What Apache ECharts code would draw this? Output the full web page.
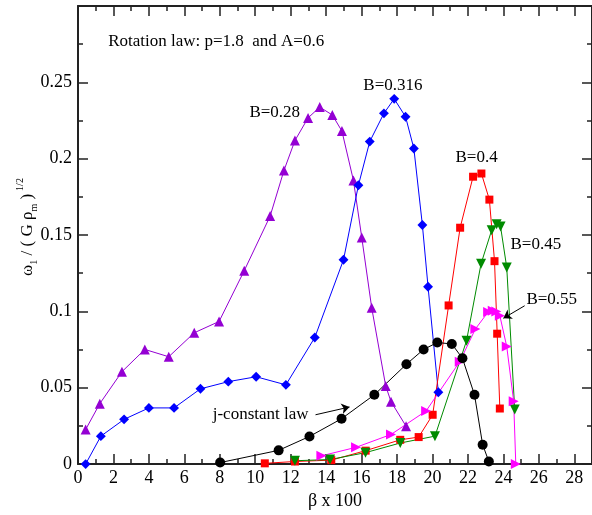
<!DOCTYPE html>
<html>
<head>
<meta charset="utf-8">
<script src="https://cdn.jsdelivr.net/npm/echarts@6/dist/echarts.min.js"></script>
<style>
html,body{margin:0;padding:0;background:#fff;}
#chart{width:592px;height:515px;}
</style>
</head>
<body>
<div id="chart"></div>
<script>
// ---- data ----
var b028_x = [0.43,1.23,2.48,3.77,5.12,6.56,7.96,9.38,10.84,11.62,12.24,12.98,13.64,14.35,14.89,15.54,16.01,16.57,17.36,17.66,18.51];
var b028_y = [0.0226,0.0396,0.0605,0.0751,0.0703,0.086,0.0934,0.1267,0.1624,0.1923,0.2119,0.2267,0.2338,0.2286,0.2181,0.1858,0.1484,0.1024,0.0512,0.0409,0.0248];

var b0316_x = [0.43,1.29,2.6,4.0,5.42,6.91,8.48,10.05,11.73,13.36,14.98,15.82,16.46,17.26,17.84,18.48,18.95,19.43,19.75,20.33];
var b0316_y = [0.0,0.0183,0.0293,0.0368,0.0368,0.0493,0.054,0.0572,0.0519,0.0829,0.1338,0.1826,0.2112,0.2297,0.2392,0.2275,0.2067,0.1566,0.1161,0.0471];

var b04_x = [10.54,12.24,14.29,16.23,18.18,19.22,20.01,20.91,21.56,22.29,22.76,23.21,23.5,23.65,23.8];
var b04_y = [0.0005,0.0017,0.0026,0.0088,0.0159,0.0177,0.0323,0.1039,0.1548,0.1882,0.1903,0.1732,0.1329,0.0854,0.0364];

var b045_x = [12.24,14.22,16.22,18.18,20.14,21.92,22.74,23.34,23.62,23.84,24.19,24.64];
var b045_y = [0.0022,0.003,0.0075,0.0138,0.0183,0.0807,0.1312,0.1532,0.157,0.1556,0.1288,0.0357];

var b055_x = [13.73,15.69,17.66,19.64,21.54,22.42,23.14,23.4,23.6,23.8,24.19,24.58,24.7];
var b055_y = [0.0054,0.011,0.0194,0.0348,0.0671,0.0885,0.0996,0.1004,0.1,0.0972,0.077,0.0412,0.0];

var jconst_x = [8.02,11.32,13.06,14.87,16.72,18.53,19.5,20.27,21.09,21.69,22.37,22.83,23.18];
var jconst_y = [0.001,0.009,0.0181,0.0297,0.0454,0.0654,0.0751,0.0796,0.0787,0.0693,0.0454,0.0127,0.0017];

var xRange = [0, 29];
var yRange = [0, 0.3];

// annotation texts anchored at data coordinates
var annotations = [
  {text: 'Rotation law: p=1.8  and A=0.6', at: [1.7, 0.277]},
  {text: 'B=0.28', at: [9.67, 0.230]},
  {text: 'B=0.316', at: [16.1, 0.248]},
  {text: 'B=0.4', at: [21.3, 0.201]},
  {text: 'B=0.45', at: [24.4, 0.144]},
  {text: 'B=0.55', at: [25.3, 0.1075]},
  {text: 'j-constant law', at: [7.6, 0.0327]}
];
var arrows = [
  [[13.4, 0.0323], [15.32, 0.0374]],
  [[25.2, 0.1037], [24.0, 0.0955]]
];

function zip(xs, ys) { return xs.map(function (x, i) { return [x, ys[i]]; }); }

var FONT = '"Liberation Serif", "DejaVu Serif", serif';

function mkSeries(name, xs, ys, color, symbol, size, rot) {
  return {
    name: name, type: 'line', data: zip(xs, ys),
    symbol: symbol, symbolSize: size, symbolRotate: rot || 0,
    lineStyle: {color: color, width: 1},
    itemStyle: {color: color},
    animation: false, z: 3
  };
}

var chart = echarts.init(document.getElementById('chart'), null, {renderer: 'canvas'});

var axisCommon = {
  type: 'value',
  axisLine: {show: true, onZero: false, lineStyle: {color: '#222', width: 2}},
  axisTick: {show: true, inside: true, length: 10, lineStyle: {color: '#222', width: 1.5}},
  minorTick: {show: true, splitNumber: 2, length: 5, lineStyle: {color: '#222', width: 1.5}},
  splitLine: {show: false},
  minorSplitLine: {show: false}
};

var option = {
  animation: false,
  backgroundColor: '#fff',
  grid: {left: 78, top: 6, right: -3, bottom: 44, containLabel: false},
  xAxis: [
    Object.assign({}, axisCommon, {
      position: 'bottom', min: xRange[0], max: xRange[1], interval: 2,
      name: 'β x 100', nameLocation: 'middle', nameGap: 23,
      nameTextStyle: {fontFamily: FONT, fontSize: 18, color: '#000'},
      axisLabel: {show: true, showMaxLabel: false, margin: 5, fontFamily: FONT, fontSize: 18, color: '#000',
        formatter: function (v) { return (v % 2 === 0) ? String(v) : ''; }}
    }),
    Object.assign({}, axisCommon, {
      position: 'top', min: xRange[0], max: xRange[1], interval: 2,
      axisLabel: {show: false}
    })
  ],
  yAxis: [
    Object.assign({}, axisCommon, {
      position: 'left', min: yRange[0], max: yRange[1], interval: 0.05,
      axisLabel: {show: true, showMaxLabel: false, margin: 6, fontFamily: FONT, fontSize: 18, color: '#000',
        formatter: function (v) { return String(Math.round(v * 1000) / 1000); }}
    }),
    Object.assign({}, axisCommon, {
      position: 'right', min: yRange[0], max: yRange[1], interval: 0.05,
      axisLabel: {show: false}
    })
  ],
  series: [
    mkSeries('B=0.28', b028_x, b028_y, '#9400D3', 'triangle', 10, 0),
    mkSeries('B=0.316', b0316_x, b0316_y, '#0000FF', 'rect', 7, 45),
    mkSeries('B=0.4', b04_x, b04_y, '#FF0000', 'rect', 8, 0),
    mkSeries('B=0.45', b045_x, b045_y, '#008B00', 'triangle', 10, 180),
    mkSeries('B=0.55', b055_x, b055_y, '#FF00FF', 'triangle', 10, -90),
    mkSeries('j-constant', jconst_x, jconst_y, '#000000', 'circle', 10, 0),
    {
      type: 'lines', coordinateSystem: 'cartesian2d', polyline: false,
      symbol: ['none', 'arrow'], symbolSize: 8,
      lineStyle: {color: '#000', width: 1, opacity: 1},
      data: arrows.map(function (a) { return {coords: a}; }),
      animation: false, z: 4
    }
  ]
};
chart.setOption(option);

var graphics = annotations.map(function (a) {
  var p = chart.convertToPixel({xAxisIndex: 0, yAxisIndex: 0}, a.at);
  return {
    type: 'text', x: p[0], y: p[1], z: 10,
    style: {text: a.text, fill: '#000', font: '17px ' + FONT, textAlign: 'left', textVerticalAlign: 'middle'}
  };
});
graphics.push({
  type: 'text', x: 28, y: 227, rotation: Math.PI / 2, z: 10,
  style: {
    text: '{m|ω}{s|1}{m| / ( G ρ}{s|m}{m| )}{u|1/2}',
    fill: '#000', textAlign: 'center', textVerticalAlign: 'middle',
    rich: {
      m: {fontFamily: FONT, fontSize: 17, lineHeight: 30, fill: '#000'},
      s: {fontFamily: FONT, fontSize: 10, lineHeight: 10, padding: [12, 0, 0, 0], fill: '#000'},
      u: {fontFamily: FONT, fontSize: 10, lineHeight: 10, padding: [0, 0, 15, 3], fill: '#000'}
    }
  }
});
chart.setOption({graphic: graphics});
</script>
</body>
</html>
